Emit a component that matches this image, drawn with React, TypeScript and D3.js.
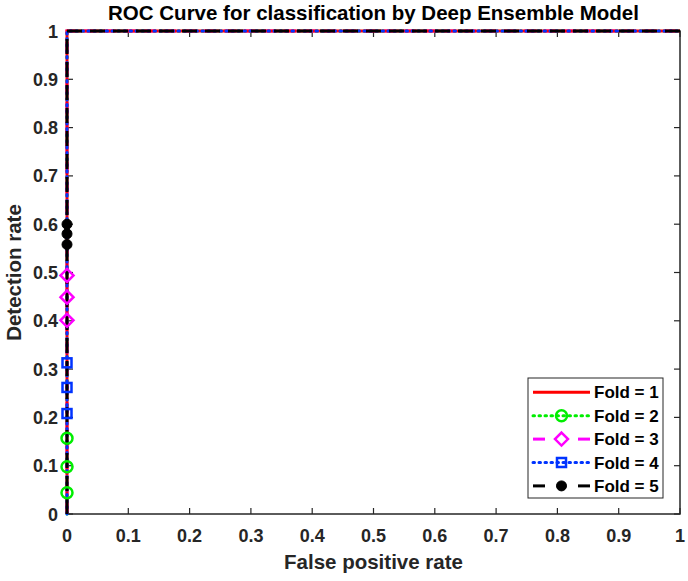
import React from "react";
import * as d3 from "d3";

const foldNames = ["Fold = 1", "Fold = 2", "Fold = 3", "Fold = 4", "Fold = 5"];
const foldColors = ["#ff0000", "#00ee00", "#ff00ff", "#0033ff", "#000000"];
const foldDash = ["none", "1.5 4.5", "12 8", "1.5 4.5", "15 8"];
const foldMarker = ["none", "circle", "diamond", "square", "dot"];
// marker y positions (x = 0) of each fold
const fold1Y: number[] = [];
const fold2Y = [0.044, 0.098, 0.157];
const fold3Y = [0.401, 0.449, 0.494];
const fold4Y = [0.208, 0.262, 0.313];
const fold5Y = [0.558, 0.58, 0.6];
const foldMarkerY = [fold1Y, fold2Y, fold3Y, fold4Y, fold5Y];
const xTicks = [0, 0.1, 0.2, 0.3, 0.4, 0.5, 0.6, 0.7, 0.8, 0.9, 1];
const yTicks = [0, 0.1, 0.2, 0.3, 0.4, 0.5, 0.6, 0.7, 0.8, 0.9, 1];
const drawOrder = [1, 2, 0, 3, 4];

const W = 688, H = 581;
const L = 67, R = 680, T = 31, B = 514;
const axisColor = "#262626";
const font = "'Liberation Sans', Arial, Helvetica, sans-serif";

function Marker({ type, x, y, color }: { type: string; x: number; y: number; color: string }) {
  if (type === "circle")
    return <circle cx={x} cy={y} r={5.5} fill="none" stroke={color} strokeWidth={2.5} />;
  if (type === "diamond") {
    const s = 6.5;
    return (
      <path d={`M${x},${y - s}L${x + s},${y}L${x},${y + s}L${x - s},${y}Z`} fill="none" stroke={color} strokeWidth={2.5} />
    );
  }
  if (type === "square")
    return <rect x={x - 4.5} y={y - 4.5} width={9} height={9} fill="none" stroke={color} strokeWidth={2.5} />;
  if (type === "dot") return <circle cx={x} cy={y} r={5} fill={color} stroke={color} strokeWidth={1} />;
  return null;
}

export default function App() {
  const x = d3.scaleLinear().domain([0, 1]).range([L, R]);
  const y = d3.scaleLinear().domain([0, 1]).range([B, T]);
  const line = d3
    .line<[number, number]>()
    .x((d) => x(d[0]))
    .y((d) => y(d[1]));

  const curves = foldMarkerY.map((ys) => {
    const pts: [number, number][] = [[0, 0], ...ys.map((v) => [0, v] as [number, number]), [0, 1], [1, 1]];
    return pts;
  });

  const legX = 528, legY = 378, legW = 135, legH = 120;
  const rowY = (i: number) => 392.3 + i * 23.4;

  return (
    <svg width={W} height={H} style={{ position: "absolute", left: 0, top: 0, background: "#fff" }}>
      <rect x={0} y={0} width={W} height={H} fill="#fff" />
      {/* axes box */}
      <rect x={L} y={T} width={R - L} height={B - T} fill="none" stroke={axisColor} strokeWidth={1.5} />
      {/* ticks */}
      {xTicks.map((t) => (
        <g key={"xt" + t}>
          <line x1={x(t)} x2={x(t)} y1={B} y2={B - 6} stroke={axisColor} strokeWidth={1.2} />
          <line x1={x(t)} x2={x(t)} y1={T} y2={T + 6} stroke={axisColor} strokeWidth={1.2} />
          <text x={x(t)} y={B + 28} textAnchor="middle" fontFamily={font} fontWeight="bold" fontSize={18} fill={axisColor}>
            {t === 0 || t === 1 ? String(t) : t.toFixed(1)}
          </text>
        </g>
      ))}
      {yTicks.map((t) => (
        <g key={"yt" + t}>
          <line x1={L} x2={L + 6} y1={y(t)} y2={y(t)} stroke={axisColor} strokeWidth={1.2} />
          <line x1={R} x2={R - 6} y1={y(t)} y2={y(t)} stroke={axisColor} strokeWidth={1.2} />
          <text x={L - 9} y={y(t) + 6.5} textAnchor="end" fontFamily={font} fontWeight="bold" fontSize={18} fill={axisColor}>
            {t === 0 || t === 1 ? String(t) : t.toFixed(1)}
          </text>
        </g>
      ))}
      {/* curves */}
      {drawOrder.map((i) => (
        <path
          key={"c" + i}
          d={line(curves[i]) || ""}
          fill="none"
          stroke={foldColors[i]}
          strokeWidth={3}
          strokeDasharray={foldDash[i]}
          strokeLinecap={foldDash[i].startsWith("1.5") ? "round" : "butt"}
        />
      ))}
      {/* markers */}
      {foldMarkerY.map((ys, i) =>
        ys.map((v, j) => <Marker key={`m${i}-${j}`} type={foldMarker[i]} x={x(0)} y={y(v)} color={foldColors[i]} />)
      )}
      {/* title & labels */}
      <text x={(L + R) / 2} y={20} textAnchor="middle" fontFamily={font} fontWeight="bold" fontSize={20.5} fill="#000">
        ROC Curve for classification by Deep Ensemble Model
      </text>
      <text x={(L + R) / 2} y={569} textAnchor="middle" fontFamily={font} fontWeight="bold" fontSize={20.5} fill={axisColor}>
        False positive rate
      </text>
      <text
        transform={`translate(21,${(T + B) / 2}) rotate(-90)`}
        textAnchor="middle"
        fontFamily={font}
        fontWeight="bold"
        fontSize={20.5}
        fill={axisColor}
      >
        Detection rate
      </text>
      {/* legend */}
      <rect x={legX} y={legY} width={legW} height={legH} fill="#fff" stroke={axisColor} strokeWidth={1} />
      {foldNames.map((name, i) => {
        const cy = rowY(i);
        const dashed = foldDash[i] === "12 8" || foldDash[i] === "15 8";
        return (
          <g key={"leg" + i}>
            {dashed ? (
              <>
                <line x1={533} x2={545} y1={cy} y2={cy} stroke={foldColors[i]} strokeWidth={3} />
                <line x1={578} x2={590} y1={cy} y2={cy} stroke={foldColors[i]} strokeWidth={3} />
              </>
            ) : (
              <line
                x1={533}
                x2={590}
                y1={cy}
                y2={cy}
                stroke={foldColors[i]}
                strokeWidth={3}
                strokeDasharray={foldDash[i]}
                strokeLinecap={foldDash[i] === "none" ? "butt" : "round"}
              />
            )}
            <Marker type={foldMarker[i]} x={561.5} y={cy} color={foldColors[i]} />
            <text x={594} y={cy + 6} fontFamily={font} fontWeight="bold" fontSize={17} fill="#000">
              {name}
            </text>
          </g>
        );
      })}
    </svg>
  );
}
